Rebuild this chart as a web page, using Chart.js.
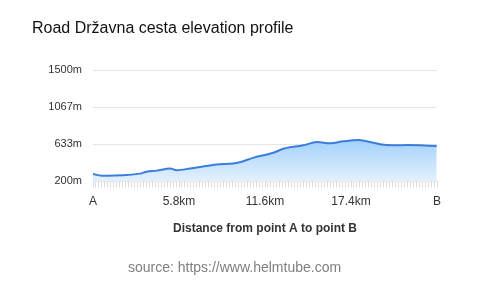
<!DOCTYPE html>
<html>
<head>
<meta charset="utf-8">
<script src="https://cdn.jsdelivr.net/npm/chart.js@4/dist/chart.umd.min.js"></script>
<style>
html,body{margin:0;padding:0;background:#fff;}
#wrap{width:480px;height:287px;position:relative;}
</style>
</head>
<body>
<div id="wrap"><canvas id="c" width="480" height="287"></canvas></div>
<script>
// distance from A (km)
const distances = [0.0, 0.59, 2.0, 3.17, 3.62, 4.3, 5.19, 5.64, 6.54, 7.22, 8.34, 9.46, 10.14, 10.79, 12.16, 12.83, 13.51, 14.18, 15.09, 15.98, 16.88, 17.89, 18.46, 19.36, 20.25, 21.16, 22.05, 23.18];
// elevation (m)
const elevations = [286, 267, 271, 291, 314, 326, 350, 330, 350, 369, 397, 409, 436, 475, 535, 582, 605, 622, 661, 645, 669, 684, 669, 634, 622, 625, 622, 614];
const totalKm = 23.2;
const xLabelEvery = 5.8;
const yTickValues = [200, 633.33, 1066.67, 1500];
const yTickLabels = ['200m', '633m', '1067m', '1500m'];
const titleText = 'Road Državna cesta elevation profile';
const xAxisTitle = 'Distance from point A to point B';
const sourceText = 'source: https://www.helmtube.com';

const points = distances.map((d, i) => ({x: d, y: elevations[i]}));

Chart.defaults.font.family = '"Liberation Sans", Arial, Helvetica, sans-serif';
Chart.defaults.color = '#333';

new Chart(document.getElementById('c'), {
  type: 'line',
  data: {
    datasets: [{
      data: points,
      borderColor: '#3b7ddd',
      borderWidth: 2,
      pointRadius: 0,
      tension: 0.3,
      fill: 'start',
      backgroundColor: (ctx) => {
        const ca = ctx.chart.chartArea;
        if (!ca) return '#cfe6fd';
        const g = ctx.chart.ctx.createLinearGradient(0, ca.top + 65, 0, ca.bottom);
        g.addColorStop(0, '#9bcdfb');
        g.addColorStop(1, '#e4f1fd');
        return g;
      }
    }]
  },
  options: {
    responsive: false,
    animation: false,
    layout: {padding: {left: 32, right: 43, top: 0, bottom: 0}},
    plugins: {
      legend: {display: false},
      tooltip: {enabled: false},
      title: {
        display: true, text: titleText, align: 'start',
        color: '#111', font: {size: 16, weight: 'normal'},
        padding: {top: 19, bottom: 32}
      },
      subtitle: {
        display: true, text: sourceText, position: 'bottom',
        color: '#808080', font: {size: 14, weight: 'normal'},
        padding: {top: 24, bottom: 10}
      }
    },
    scales: {
      x: {
        type: 'linear', min: 0, max: totalKm,
        border: {display: false},
        grid: {display: true, drawOnChartArea: false, drawTicks: true, tickLength: 6, color: '#dcdcdc', lineWidth: 1},
        afterBuildTicks: (s) => {
          const t = [];
          for (let i = 0; i <= 116; i++) t.push({value: i * totalKm / 116});
          s.ticks = t;
        },
        ticks: {
          autoSkip: false, maxRotation: 0, padding: 7,
          color: '#333', font: {size: 12},
          callback: (v, i) => {
            if (i === 0) return 'A';
            if (i === 116) return 'B';
            if (i % 29 === 0) return (Math.round(v / xLabelEvery) * xLabelEvery).toFixed(1) + 'km';
            return '';
          }
        },
        title: {display: true, text: xAxisTitle, color: '#333', font: {size: 12, weight: 'bold'}, padding: {top: 6, bottom: 0}}
      },
      y: {
        min: 200, max: 1500,
        border: {display: false},
        grid: {color: '#e6e6e6', drawTicks: false, lineWidth: 1},
        afterBuildTicks: (s) => { s.ticks = yTickValues.map(v => ({value: v})); },
        afterFit: (s) => { s.width = 61; },
        ticks: {
          padding: 11, color: '#333', font: {size: 11},
          callback: (v, i) => yTickLabels[i]
        }
      }
    }
  }
});
</script>
</body>
</html>
